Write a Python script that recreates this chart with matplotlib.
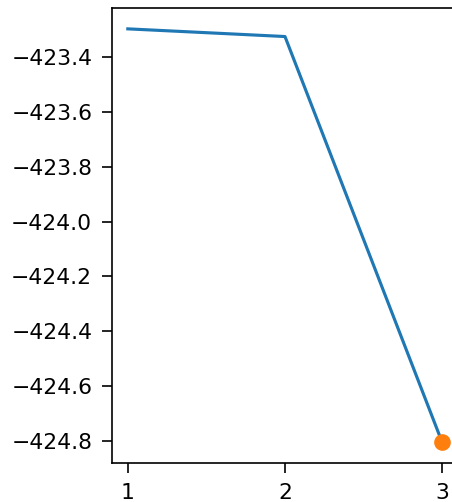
import numpy as np
import matplotlib.pyplot as plt

# values
steps = [1, 2, 3]
energy = [-423.297, -423.325, -424.805]
last_step = [3]
last_energy = [-424.805]

dpi = 150
fig = plt.figure(figsize=(452 / dpi, 502 / dpi), dpi=dpi)
# axes runs past the right edge, as in the cropped reference
ax = fig.add_axes([0.248, 0.0777, 0.765, 0.906])
ax.plot(steps, energy, color='C0')
ax.plot(last_step, last_energy, 'o', color='C1', markersize=7)
ax.set_xticks(steps)
ax.set_yticks(np.arange(-424.8, -423.3, 0.2))
ax.tick_params(labelsize=10.5, length=5, pad=4.5)

fig.savefig("out.png", dpi=dpi)
